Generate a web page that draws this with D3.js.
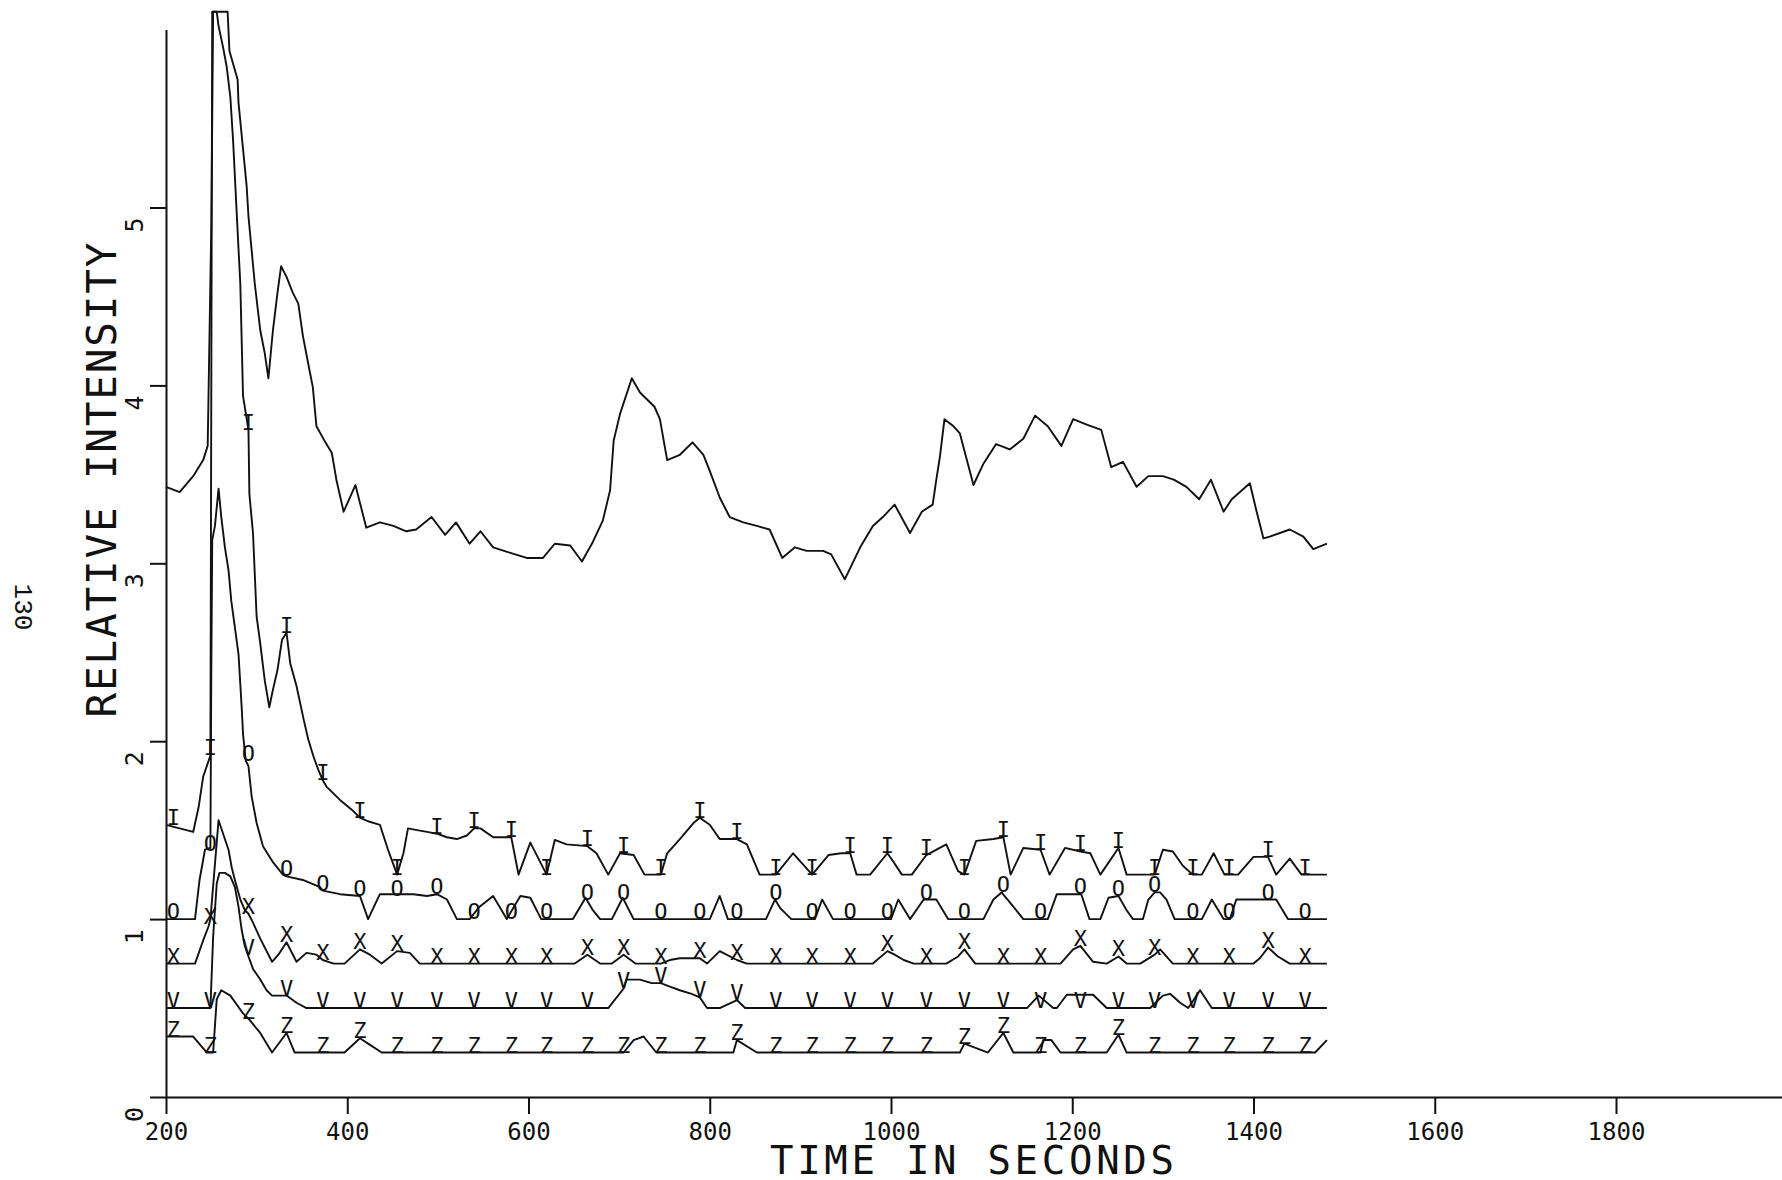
<!DOCTYPE html>
<html><head><meta charset="utf-8">
<script src="https://cdn.jsdelivr.net/npm/d3@7"></script>
<style>html,body{margin:0;padding:0;background:#fff;} svg{display:block;}</style>
</head><body>
<svg id="chart" width="1782" height="1180"></svg>
<script>
// ---------- data ----------
const xTicks = [200, 400, 600, 800, 1000, 1200, 1400, 1600, 1800];
const yTicks = [0, 1, 2, 3, 4, 5];
const xTitle = "TIME IN SECONDS";
const yTitle = "RELATIVE INTENSITY";
const pageLabel = "130";

// top curve (no symbols)
const seriesTop = [[200,3.43],[215,3.40],[230,3.49],[241,3.58],[246,3.66],[250,4.9],[252,6.1],[268,6.1],[270,5.88],[279,5.72],[280,5.59],[289,5.12],[291,4.95],[298,4.57],[304,4.31],[309,4.18],[313,4.04],[318,4.31],[323,4.52],[327,4.67],[333,4.61],[340,4.52],[346,4.46],[351,4.28],[357,4.12],[362,3.99],[366,3.77],[377,3.67],[383,3.62],[388,3.47],[396,3.29],[409,3.44],[421,3.20],[436,3.23],[451,3.21],[465,3.18],[476,3.19],[493,3.26],[508,3.16],[520,3.23],[535,3.11],[547,3.18],[561,3.09],[579,3.06],[598,3.03],[616,3.03],[629,3.11],[646,3.10],[659,3.01],[671,3.12],[682,3.24],[690,3.41],[694,3.69],[701,3.84],[714,4.04],[723,3.96],[739,3.88],[745,3.81],[753,3.58],[767,3.61],[781,3.68],[793,3.61],[800,3.52],[811,3.37],[822,3.26],[837,3.23],[852,3.21],[866,3.19],[880,3.03],[894,3.09],[907,3.07],[925,3.07],[934,3.05],[949,2.91],[966,3.09],[980,3.21],[991,3.26],[1004,3.33],[1021,3.17],[1034,3.29],[1046,3.33],[1050,3.47],[1054,3.60],[1059,3.81],[1069,3.77],[1076,3.73],[1091,3.44],[1102,3.56],[1116,3.67],[1131,3.64],[1146,3.70],[1159,3.83],[1173,3.77],[1188,3.66],[1201,3.81],[1216,3.78],[1232,3.75],[1243,3.54],[1256,3.57],[1271,3.43],[1284,3.49],[1300,3.49],[1312,3.47],[1326,3.43],[1340,3.36],[1353,3.47],[1367,3.29],[1376,3.36],[1396,3.45],[1403,3.30],[1411,3.14],[1418,3.15],[1440,3.19],[1455,3.15],[1466,3.08],[1481,3.11]];

const seriesI = [[200,1.53],[215,1.51],[230,1.49],[236,1.63],[241,1.80],[249,1.92],[251,6.1],[256,6.1],[258,6.02],[263,5.9],[267,5.79],[271,5.62],[274,5.38],[278,4.97],[282,4.57],[285,3.94],[291,3.75],[292,3.39],[296,3.17],[300,2.70],[304,2.55],[309,2.34],[314,2.19],[318,2.29],[323,2.40],[328,2.57],[333,2.61],[337,2.44],[344,2.31],[352,2.12],[357,2.01],[363,1.91],[368,1.84],[373,1.78],[377,1.745],[392,1.67],[405,1.615],[414,1.57],[423,1.55],[436,1.53],[445,1.39],[455,1.25],[462,1.37],[467,1.51],[477,1.50],[488,1.49],[499,1.48],[510,1.46],[521,1.45],[532,1.47],[540,1.51],[547,1.51],[561,1.46],[581,1.46],[589,1.25],[602,1.43],[620,1.25],[629,1.445],[642,1.42],[665,1.41],[675,1.37],[688,1.25],[701,1.37],[716,1.36],[728,1.25],[746,1.25],[753,1.37],[767,1.45],[782,1.54],[789,1.57],[800,1.53],[811,1.45],[830,1.45],[841,1.42],[855,1.25],[873,1.25],[892,1.37],[913,1.25],[931,1.36],[945,1.37],[955,1.37],[962,1.25],[977,1.25],[996,1.37],[1003,1.32],[1012,1.25],[1023,1.25],[1039,1.36],[1061,1.42],[1074,1.27],[1081,1.25],[1094,1.44],[1113,1.45],[1124,1.46],[1132,1.25],[1146,1.40],[1165,1.39],[1175,1.25],[1192,1.40],[1209,1.38],[1220,1.37],[1231,1.25],[1251,1.40],[1260,1.25],[1291,1.25],[1300,1.39],[1311,1.38],[1322,1.30],[1333,1.25],[1343,1.25],[1356,1.37],[1368,1.25],[1383,1.25],[1400,1.35],[1416,1.35],[1425,1.25],[1440,1.34],[1453,1.25],[1481,1.25]];

const seriesO = [[200,1.0],[232,1.0],[237,1.22],[243,1.39],[249,1.40],[250,2.40],[251,3.13],[254,3.21],[258,3.42],[261,3.26],[265,3.09],[269,2.96],[272,2.79],[276,2.64],[280,2.49],[282,2.32],[283.5,2.19],[285,2.04],[288,1.89],[291,1.86],[294.5,1.69],[300,1.54],[307,1.41],[318,1.32],[329,1.25],[333,1.24],[351,1.22],[370,1.18],[373,1.16],[392,1.14],[414,1.13],[423,1.0],[436,1.14],[451,1.14],[473,1.14],[488,1.13],[499,1.14],[510,1.11],[521,1.0],[535,1.0],[546,1.07],[561,1.13],[576,1.0],[591,1.13],[602,1.12],[614,1.0],[649,1.0],[663,1.12],[671,1.05],[679,1.0],[692,1.0],[704,1.12],[716,1.0],[800,1.0],[811,1.13],[820,1.0],[862,1.0],[872,1.11],[878,1.06],[890,1.0],[916,1.0],[924,1.11],[936,1.0],[1000,1.0],[1008,1.11],[1021,1.0],[1036,1.11],[1050,1.11],[1063,1.0],[1102,1.0],[1113,1.11],[1122,1.15],[1135,1.07],[1146,1.0],[1173,1.0],[1183,1.14],[1210,1.14],[1219,1.0],[1231,1.0],[1240,1.12],[1251,1.13],[1260,1.05],[1267,1.0],[1278,1.0],[1284,1.11],[1291,1.15],[1297,1.15],[1304,1.11],[1313,1.0],[1343,1.0],[1354,1.11],[1367,1.0],[1374,1.0],[1381,1.11],[1425,1.11],[1438,1.0],[1481,1.0]];

const seriesX = [[200,0.75],[232,0.75],[241,0.88],[247,0.96],[249,1.0],[258,1.556],[263,1.48],[269,1.39],[272.5,1.29],[276,1.22],[282,1.11],[287,1.05],[291,1.03],[296,0.98],[304,0.89],[317,0.76],[324,0.80],[333,0.87],[344,0.76],[355,0.81],[366,0.80],[373,0.77],[385,0.75],[397,0.75],[414,0.83],[425,0.80],[438,0.75],[455,0.82],[469,0.81],[480,0.75],[651,0.75],[665,0.80],[679,0.75],[692,0.75],[705,0.80],[718,0.75],[746,0.75],[756,0.77],[767,0.78],[789,0.78],[797,0.75],[811,0.82],[830,0.77],[841,0.75],[980,0.75],[996,0.82],[1004,0.80],[1014,0.77],[1025,0.75],[1061,0.75],[1074,0.79],[1081,0.83],[1093,0.75],[1187,0.75],[1201,0.83],[1209,0.85],[1223,0.76],[1238,0.75],[1251,0.79],[1260,0.75],[1275,0.75],[1291,0.80],[1297,0.83],[1311,0.75],[1400,0.75],[1407,0.78],[1416,0.84],[1427,0.79],[1440,0.75],[1481,0.75]];

const seriesV = [[200,0.5],[249,0.5],[252,0.9],[256,1.2],[259,1.26],[265,1.26],[271,1.24],[276,1.18],[280,1.07],[283.5,0.94],[287,0.85],[291,0.79],[296,0.72],[304,0.66],[311,0.60],[317,0.57],[333,0.57],[344,0.53],[355,0.5],[688,0.5],[705,0.61],[708,0.66],[723,0.66],[736,0.64],[746,0.64],[756,0.62],[767,0.60],[780,0.58],[789,0.56],[797,0.5],[811,0.5],[830,0.545],[839,0.5],[1150,0.5],[1163,0.57],[1179,0.5],[1183,0.5],[1194,0.575],[1223,0.575],[1238,0.5],[1286,0.5],[1300,0.57],[1308,0.58],[1319,0.53],[1328,0.5],[1341,0.60],[1354,0.5],[1481,0.5]];

const seriesZ = [[200,0.34],[230,0.34],[245,0.25],[252,0.25],[256,0.55],[261,0.60],[271,0.57],[278,0.52],[285,0.47],[291,0.44],[304,0.36],[317,0.25],[333,0.36],[342,0.25],[397,0.25],[414,0.33],[423,0.30],[438,0.25],[705,0.25],[716,0.32],[727,0.34],[741,0.25],[826,0.25],[830,0.32],[852,0.25],[1076,0.25],[1081,0.30],[1107,0.25],[1124,0.36],[1135,0.25],[1165,0.25],[1168,0.32],[1177,0.32],[1187,0.25],[1238,0.25],[1251,0.35],[1260,0.25],[1468,0.25],[1481,0.32]];

// plotting symbols: shared times, one value list per series
const markerTimes = [208,249,291,333,373,414,455,499,540,581,620,665,705,746,789,830,873,913,955,996,1039,1081,1124,1165,1209,1251,1291,1333,1373,1416,1457];
const marksI = [1.53,1.92,3.75,2.61,1.78,1.57,1.25,1.48,1.51,1.46,1.25,1.41,1.37,1.25,1.57,1.45,1.25,1.25,1.37,1.37,1.36,1.25,1.46,1.39,1.38,1.40,1.25,1.25,1.25,1.35,1.25];
const marksO = [1.0,1.38,1.89,1.24,1.16,1.13,1.13,1.14,1.0,1.0,1.0,1.11,1.11,1.0,1.0,1.0,1.11,1.0,1.0,1.0,1.11,1.0,1.15,1.0,1.14,1.13,1.15,1.0,1.0,1.11,1.0];
const marksX = [0.75,0.97,1.03,0.87,0.77,0.83,0.82,0.75,0.75,0.75,0.75,0.80,0.80,0.75,0.78,0.77,0.75,0.75,0.75,0.82,0.75,0.83,0.75,0.75,0.85,0.79,0.80,0.75,0.75,0.84,0.75];
const marksV = [0.5,0.5,0.80,0.57,0.5,0.5,0.5,0.5,0.5,0.5,0.5,0.5,0.61,0.64,0.56,0.545,0.5,0.5,0.5,0.5,0.5,0.5,0.5,0.5,0.5,0.5,0.5,0.5,0.5,0.5,0.5];
const marksZ = [0.34,0.25,0.44,0.36,0.25,0.33,0.25,0.25,0.25,0.25,0.25,0.25,0.25,0.25,0.25,0.32,0.25,0.25,0.25,0.25,0.25,0.30,0.36,0.25,0.25,0.35,0.25,0.25,0.25,0.25,0.25];

// ---------- drawing ----------
const W = 1782, H = 1180;
const INK = "#111";
const MONO = "DejaVu Sans Mono, monospace";
const x = d3.scaleLinear().domain([200, 2000]).range([166, 1797.25]);
const y = d3.scaleLinear().domain([0, 6]).range([1097, 29.6]);

const svg = d3.select("#chart");
svg.append("rect").attr("width", W).attr("height", H).attr("fill", "#fff");

// x axis
const gx = svg.append("g").attr("transform", `translate(0,${y(0)})`)
  .call(d3.axisBottom(x).tickValues(xTicks).tickSize(17).tickSizeOuter(0).tickFormat(d3.format("d")));
gx.attr("font-family", MONO).attr("font-size", 24);
gx.select(".domain").attr("stroke", INK).attr("stroke-width", 2);
gx.selectAll(".tick line").attr("stroke", INK).attr("stroke-width", 2);
gx.selectAll(".tick text").attr("y", 43).attr("dy", 0).attr("fill", INK);

// y axis
const gy = svg.append("g").attr("transform", `translate(${x(200)},0)`)
  .call(d3.axisLeft(y).tickValues(yTicks).tickSize(16).tickSizeOuter(0).tickFormat(d3.format("d")));
gy.attr("font-family", MONO).attr("font-size", 25);
gy.select(".domain").attr("stroke", INK).attr("stroke-width", 2);
gy.selectAll(".tick line").attr("stroke", INK).attr("stroke-width", 2);
gy.selectAll(".tick text")
  .attr("x", null).attr("dy", null)
  .attr("transform", "translate(-32,17) rotate(-90)")
  .attr("text-anchor", "middle")
  .attr("dominant-baseline", "central")
  .attr("fill", INK);

// axis titles
svg.append("text")
  .attr("transform", "translate(102,480) rotate(-90)")
  .attr("text-anchor", "middle").attr("dominant-baseline", "central")
  .attr("font-family", MONO).attr("font-size", 41).attr("fill", INK)
  .attr("textLength", 475).attr("lengthAdjust", "spacing")
  .text(yTitle);
svg.append("text")
  .attr("x", 972).attr("y", 1174)
  .attr("text-anchor", "middle")
  .attr("font-family", MONO).attr("font-size", 39).attr("fill", INK)
  .attr("textLength", 404).attr("lengthAdjust", "spacing")
  .text(xTitle);

// page number
svg.append("text")
  .attr("transform", "translate(22,607) rotate(90)")
  .attr("text-anchor", "middle").attr("dominant-baseline", "central")
  .attr("font-family", "Liberation Mono, monospace").attr("font-size", 26).attr("fill", INK)
  .text(pageLabel);

// lines
const line = d3.line().x(d => x(d[0])).y(d => y(d[1]));
[seriesTop, seriesI, seriesO, seriesX, seriesV, seriesZ].forEach(s => {
  svg.append("path").datum(s).attr("d", line)
    .attr("fill", "none").attr("stroke", INK).attr("stroke-width", 1.9)
    .attr("stroke-linejoin", "round");
});

// symbols
const markerSets = [["I", marksI], ["O", marksO], ["X", marksX], ["V", marksV], ["Z", marksZ]];
markerSets.forEach(([sym, vals]) => {
  svg.append("g")
    .attr("font-family", MONO).attr("font-size", 22).attr("fill", INK)
    .attr("text-anchor", "middle")
    .selectAll("text")
    .data(markerTimes.map((t, i) => [t, vals[i]]))
    .join("text")
    .attr("x", d => x(d[0]))
    .attr("y", d => y(d[1]))
    .text(sym);
});
</script>
</body></html>
